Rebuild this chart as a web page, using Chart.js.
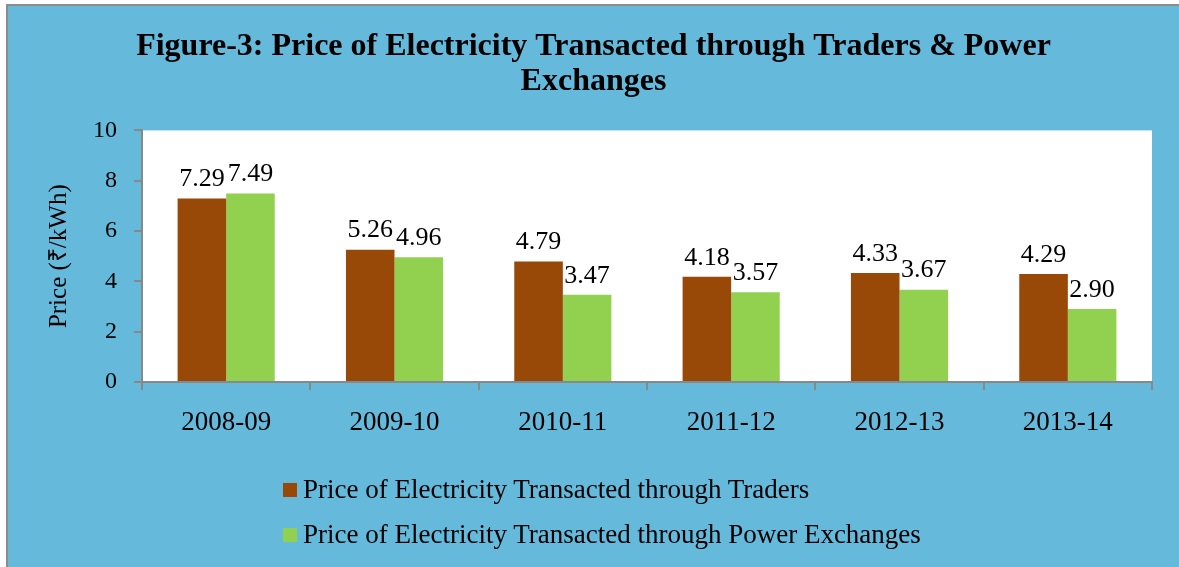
<!DOCTYPE html>
<html>
<head>
<meta charset="utf-8">
<script src="https://cdn.jsdelivr.net/npm/chart.js@4/dist/chart.umd.min.js"></script>
<style>
  html, body { margin: 0; padding: 0; background: #fff; }
  #frame {
    position: absolute; left: 6px; top: 4px; width: 1200px; height: 600px;
    background: #65b9db; border-left: 2px solid #8c8c8c; border-top: 2px solid #8c8c8c;
  }
  #wrap { position: absolute; left: 0; top: 0; width: 1179px; height: 567px; }
  #legend {
    position: absolute; left: 283px; top: 467px;
    font-family: "Liberation Serif", "Times New Roman", serif; font-size: 27px; color: #000;
  }
  .item { display: flex; align-items: center; height: 45px; }
  .box { width: 14px; height: 14px; margin-right: 6px; }
</style>
</head>
<body>
<div id="frame"></div>
<div id="wrap"><canvas id="price-chart"></canvas></div>
<div id="legend"></div>
<script>
const years = ["2008-09", "2009-10", "2010-11", "2011-12", "2012-13", "2013-14"];
const tradersPrice = [7.29, 5.26, 4.79, 4.18, 4.33, 4.29];
const exchangePrice = [7.49, 4.96, 3.47, 3.57, 3.67, 2.90];

const serif = "'Liberation Serif', 'Times New Roman', serif";
const axisGray = "#888888";

// white plot area
const plotBg = {
  id: "plotBg",
  beforeDraw(chart) {
    const a = chart.chartArea;
    chart.ctx.save();
    chart.ctx.fillStyle = "#fff";
    chart.ctx.fillRect(a.left, a.top, a.right - a.left, a.bottom - a.top);
    chart.ctx.restore();
  },
};

// value labels above each bar
const barLabels = {
  id: "barLabels",
  afterDatasetsDraw(chart) {
    const ctx = chart.ctx;
    ctx.save();
    ctx.font = "26px " + serif;
    ctx.fillStyle = "#000";
    ctx.textAlign = "center";
    ctx.textBaseline = "bottom";
    chart.data.datasets.forEach((ds, i) => {
      chart.getDatasetMeta(i).data.forEach((bar, j) => {
        ctx.fillText(ds.data[j].toFixed(2), bar.x, bar.y - 6);
      });
    });
    ctx.restore();
  },
};

const priceData = {
  type: "bar",
  data: {
    labels: years,
    datasets: [
      {
        label: "Price of Electricity Transacted through Traders",
        backgroundColor: "#984807",
        data: tradersPrice,
      },
      {
        label: "Price of Electricity Transacted through Power Exchanges",
        backgroundColor: "#92d050",
        data: exchangePrice,
      },
    ],
  },
  options: {
    responsive: false,
    animation: false,
    layout: { padding: { top: 29, left: 35, right: 27, bottom: 0 } },
    datasets: { bar: { categoryPercentage: 0.577, barPercentage: 1 } },
    plugins: {
      legend: { display: false },
      tooltip: { enabled: false },
      title: {
        display: true,
        text: ["Figure-3: Price of Electricity Transacted through Traders & Power", "Exchanges"],
        color: "#000",
        font: { family: serif, size: 32, weight: "bold", lineHeight: 1.1 },
        padding: { top: 0, bottom: 31 },
      },
    },
    scales: {
      x: {
        afterFit(scale) { scale.height = 185; },
        grid: { drawOnChartArea: false, color: axisGray, tickLength: 8, lineWidth: 2 },
        border: { color: axisGray, width: 2 },
        ticks: { color: "#000", padding: 17, font: { family: serif, size: 27 } },
      },
      y: {
        min: 0,
        max: 10,
        afterFit(scale) { scale.width = 107; },
        grid: { drawOnChartArea: false, color: axisGray, tickLength: 8, lineWidth: 2 },
        border: { color: axisGray, width: 2 },
        ticks: { stepSize: 2, color: "#000", padding: 17, font: { family: serif, size: 24 } },
        title: {
          text: "Price (₹/kWh)",
          display: true,
          color: "#000",
          padding: { top: 9, bottom: 0 },
          font: { family: serif, size: 25 },
        },
      },
    },
  },
  plugins: [plotBg, barLabels],
};

const canvas = document.getElementById("price-chart");
canvas.width = 1179;
canvas.height = 567;
const chart = new Chart(canvas, priceData);

// legend, stacked and left aligned like the original
const legendEl = document.getElementById("legend");
chart.data.datasets.forEach((ds) => {
  const row = document.createElement("div");
  row.className = "item";
  row.innerHTML = '<span class="box" style="background:' + ds.backgroundColor + '"></span><span>' + ds.label + "</span>";
  legendEl.appendChild(row);
});
</script>
</body>
</html>
